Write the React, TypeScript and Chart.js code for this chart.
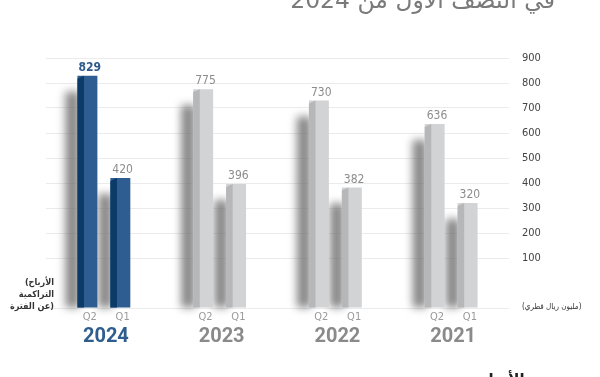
import React, { useEffect, useRef } from "react";
import { Chart, registerables } from "chart.js";

Chart.register(...registerables);

const categories = ["2024", "2023", "2022", "2021"];
const seriesLabels = ["Q2", "Q1"];
const q2Values = [829, 775, 730, 636];
const q1Values = [420, 396, 382, 320];
const yTickValues = [-100, 100, 200, 300, 400, 500, 600, 700, 800, 900];
const titleText = "في النصف الأول من 2024";
const bottomText = "نمو الأرباح";
const leftNoteLines = ["(الأرباح", "التراكمية", "عن الفترة)"];
const unitText = "(مليون ريال قطري)";

const BLUE_FRONT = "#2e5d92";
const BLUE_SIDE = "#0d3b68";
const GRAY_FRONT = "#d2d3d5";
const GRAY_SIDE = "#b6b7b9";
const NARROW = "'Liberation Sans Narrow', 'DejaVu Sans Condensed', Roboto, sans-serif";
const ARABIC_COND = "'DejaVu Sans Condensed', 'DejaVu Sans', sans-serif";

const decoPlugin = {
  id: "deco",
  beforeDatasetsDraw(chart: any) {
    const ctx = chart.ctx;
    ctx.save();
    ctx.filter = "blur(4px)";
    chart.data.datasets.forEach((_ds: any, di: number) => {
      chart.getDatasetMeta(di).data.forEach((el: any) => {
        const p = el.getProps(["x", "y", "base", "width"], true);
        const left = p.x - p.width / 2;
        ctx.fillStyle = "rgba(105,105,105,0.8)";
        ctx.fillRect(left - 12, p.y + 16, 14, p.base - p.y - 16);
      });
    });
    ctx.restore();
  },
  afterDatasetsDraw(chart: any) {
    const ctx = chart.ctx;
    ctx.save();
    chart.data.datasets.forEach((ds: any, di: number) => {
      chart.getDatasetMeta(di).data.forEach((el: any, j: number) => {
        const p = el.getProps(["x", "y", "base", "width"], true);
        const left = p.x - p.width / 2;
        const sw = p.width * 0.33;
        ctx.fillStyle = j === 0 ? BLUE_SIDE : GRAY_SIDE;
        ctx.beginPath();
        ctx.moveTo(left, p.y + 3);
        ctx.lineTo(left + sw, p.y);
        ctx.lineTo(left + sw, p.base);
        ctx.lineTo(left, p.base);
        ctx.closePath();
        ctx.fill();
        const cx = left + sw + (p.width - sw) / 2 - 1;
        const v = ds.data[j];
        const isMain = j === 0 && di === 0;
        ctx.font = (isMain ? "bold " : "") + "12px " + NARROW;
        ctx.fillStyle = isMain ? "#2e5a8c" : "#8c8c8c";
        ctx.textAlign = "center";
        ctx.textBaseline = "bottom";
        ctx.fillText(String(v), cx, p.y - 2);
        ctx.font = "11px " + NARROW;
        ctx.fillStyle = "#9a9a9a";
        ctx.textBaseline = "middle";
        ctx.fillText(seriesLabels[di], cx, p.base + 10);
      });
    });
    ctx.restore();
  },
  afterDraw(chart: any) {
    const ctx = chart.ctx;
    const xs = chart.scales.x;
    ctx.save();
    categories.forEach((c, i) => {
      const x = xs.getPixelForValue(i) + 2;
      ctx.font = "bold 20px Roboto";
      ctx.fillStyle = i === 0 ? "#2e5d8e" : "#8a8a8a";
      ctx.textAlign = "center";
      ctx.textBaseline = "middle";
      ctx.fillText(c, x, 337);
    });
    ctx.direction = "rtl";
    ctx.font = "23.5px 'DejaVu Sans'";
    ctx.fillStyle = "#7a7a7a";
    ctx.textAlign = "right";
    ctx.textBaseline = "alphabetic";
    ctx.fillText(titleText, 555, 8);
    ctx.font = "bold 15px 'DejaVu Sans'";
    ctx.fillStyle = "#222";
    ctx.fillText(bottomText, 555, 384);
    ctx.direction = "ltr";
    ctx.font = "bold 9px " + ARABIC_COND;
    ctx.fillStyle = "#333";
    ctx.textAlign = "right";
    ctx.textBaseline = "middle";
    leftNoteLines.forEach((t, i) => ctx.fillText(t, 54, 283 + i * 12));
    ctx.font = "8px " + ARABIC_COND;
    ctx.textAlign = "left";
    ctx.fillText(unitText, 522, 307);
    ctx.restore();
  },
};

export default function App() {
  const ref = useRef<HTMLCanvasElement>(null);
  useEffect(() => {
    if (!ref.current) return;
    const chart = new Chart(ref.current, {
      type: "bar",
      data: {
        labels: categories,
        datasets: [
          {
            label: seriesLabels[0],
            data: q2Values,
            base: -100,
            backgroundColor: (c: any) => (c.dataIndex === 0 ? BLUE_FRONT : GRAY_FRONT),
          } as any,
          {
            label: seriesLabels[1],
            data: q1Values,
            base: -100,
            backgroundColor: (c: any) => (c.dataIndex === 0 ? BLUE_FRONT : GRAY_FRONT),
          } as any,
        ],
      },
      options: {
        animation: false,
        responsive: false,
        devicePixelRatio: 1,
        layout: { padding: { left: 46, top: 58, bottom: 69, right: 0 } },
        datasets: { bar: { categoryPercentage: 0.569, barPercentage: 0.606 } } as any,
        plugins: { legend: { display: false }, tooltip: { enabled: false } },
        scales: {
          x: { display: false },
          y: {
            position: "right",
            min: -100,
            max: 900,
            afterBuildTicks: (s: any) => {
              s.ticks = yTickValues.map((v) => ({ value: v }));
            },
            afterFit: (s: any) => {
              s.width = 91;
            },
            border: { display: false },
            grid: {
              drawTicks: false,
              color: (c: any) => (c.tick && c.tick.value === 0 ? "rgba(0,0,0,0)" : "#ebebeb"),
            },
            ticks: {
              padding: 13,
              color: "#444",
              font: { size: 11, family: NARROW },
              callback: (v: any) => (Number(v) > 0 ? String(v) : ""),
            },
          },
        },
      },
      plugins: [decoPlugin],
    });
    return () => chart.destroy();
  }, []);
  return (
    <div style={{ position: "fixed", left: 0, top: 0, width: 600, height: 377, background: "#fff" }}>
      <canvas ref={ref} width={600} height={377} style={{ display: "block" }} />
    </div>
  );
}
